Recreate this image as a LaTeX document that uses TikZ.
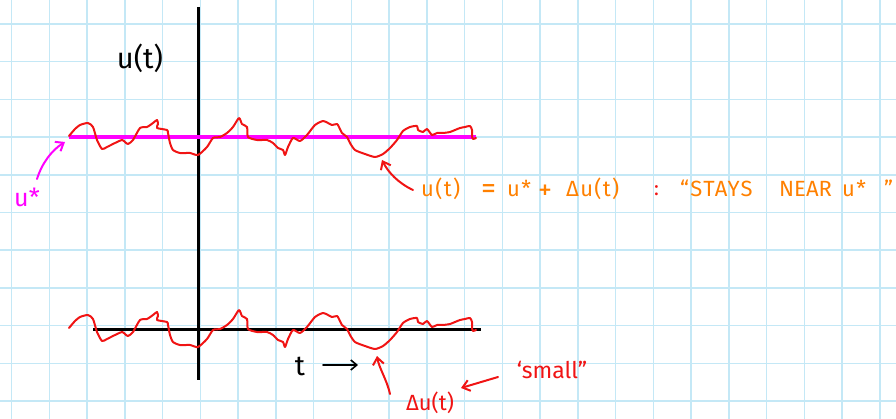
\documentclass[tikz,border=0pt]{standalone}
\usepackage{fontspec}
\setmainfont{Fira Sans}
\usetikzlibrary{arrows.meta}
\definecolor{gridblue}{RGB}{196,232,246}
\definecolor{pen}{RGB}{240,20,20}
\definecolor{mag}{RGB}{255,0,255}
\definecolor{orng}{RGB}{255,128,0}
\tikzset{
  gridline/.style={draw=gridblue,line width=1.5pt},
  axisline/.style={draw=black,line width=3pt},
  wiggle/.style={draw=pen,line width=2pt,line join=round,line cap=round},
  penarrow/.style={line width=2pt,line cap=round,-{Straight Barb[length=7pt,width=11pt,line width=2pt]}},
  lbl/.style={inner sep=0pt,font=\fontsize{20}{22}\selectfont},
  eqlbl/.style={lbl,text=orng,anchor=base west,font=\fontsize{22}{24}\selectfont\addfontfeature{LetterSpace=6}}
}
\begin{document}
\begin{tikzpicture}[x=1pt,y=-1pt]
\useasboundingbox (0,0) rectangle (896,419);
% grid
\foreach \k in {0,...,23} \draw[gridline] ({11.7+37.75*\k},0) -- ({11.7+37.75*\k},419);
\foreach \k in {0,...,10} \draw[gridline] (0,{24+37.7*\k}) -- (896,{24+37.7*\k});
% axes
\draw[axisline] (198,7) -- (198,380);
\draw[axisline] (93,329) -- (481,329);
\draw[draw=mag,line width=3.5pt] (69,137) -- (476,137);
% wiggly curves
\foreach \s in {0,192}{
\draw[wiggle,shift={(0,\s)}] plot[smooth,tension=0.4] coordinates {
(69,136) (75,129) (80,125) (88,123) (93,127) (97,140) (102,149) (107,147) (115,143) (122,140) (125,142) (128,144) (133,140) (140,128) (147,127) (153,123) (157,120) (158,124) (157,128) (167,130) (168,133) (170,143) (173,150) (180,153) (190,153) (198,155) (207,147) (213,138) (220,137) (227,133) (233,127) (239,118) (242,124) (247,127) (248,137) (257,140) (267,140) (273,143) (278,148) (283,150) (285,155) (288,147) (293,138) (300,141) (307,135) (315,125) (323,121) (328,123) (332,125) (337,124) (339,127) (342,133) (347,137) (350,143) (355,150) (365,154) (375,157) (383,154) (390,148) (397,140) (403,131) (410,127) (417,126) (418,130) (423,132) (427,129) (432,135) (437,133) (443,133) (450,132) (455,130) (460,128) (465,127) (470,126) (472,130) (472,136) (473,139) (476,138)};
}
% labels
\node[lbl,font=\fontsize{29}{31}\selectfont] (ut) at (140,58) {u(t)};
\node[lbl,text=mag,font=\fontsize{25}{27}\selectfont] (ustar) at (27,197) {u*};
\coordinate (ustarend) at (65,142);
\draw[penarrow,mag] (37,179) .. controls (42,163) and (52,150) .. (ustarend);
% orange equation
\node[eqlbl] (eq1) at (421,197) {u(t)};
\node[eqlbl,font=\fontsize{30}{32}\selectfont] (eq2) at (481,199) {=};
\node[eqlbl] (eq3) at (507,197) {u*};
\node[eqlbl,font=\fontsize{28}{30}\selectfont] (eq4) at (538,200) {+};
\node[eqlbl] (eq5) at (566,197) {Δu(t)};
\node[lbl,text=pen,anchor=base west] (colon) at (654,196) {:};
\node[eqlbl] (st1) at (680,197) {“STAYS};
\node[eqlbl,font=\fontsize{22}{24}\selectfont] (st2) at (779,197) {NEAR};
\node[eqlbl] (st3) at (842,197) {u*};
\node[eqlbl] (st4) at (884,197) {”};
\coordinate (dip1) at (382,160);
\draw[penarrow,pen] (413,190) .. controls (398,183) and (388,172) .. (dip1);
% t arrow
\node[lbl,font=\fontsize{28}{30}\selectfont] (tl) at (300,366) {t};
\coordinate (tend) at (358,365);
\draw[line width=1.6pt,line cap=round,-{Straight Barb[length=6pt,width=10pt,line width=1.6pt]}] (323,365) -- (tend);
% delta u
\node[lbl,text=pen,font=\fontsize{22}{24}\selectfont] (du) at (430,403) {Δu(t)};
\coordinate (dip2) at (377,356);
\draw[penarrow,pen] (390,394) .. controls (387,380) and (379,368) .. (dip2);
\node[lbl,text=pen,font=\fontsize{23}{25}\selectfont] (small) at (552,370) {‘small”};
\coordinate (duend) at (461,388);
\draw[penarrow,pen] (498,377) -- (duend);
\end{tikzpicture}
\end{document}
